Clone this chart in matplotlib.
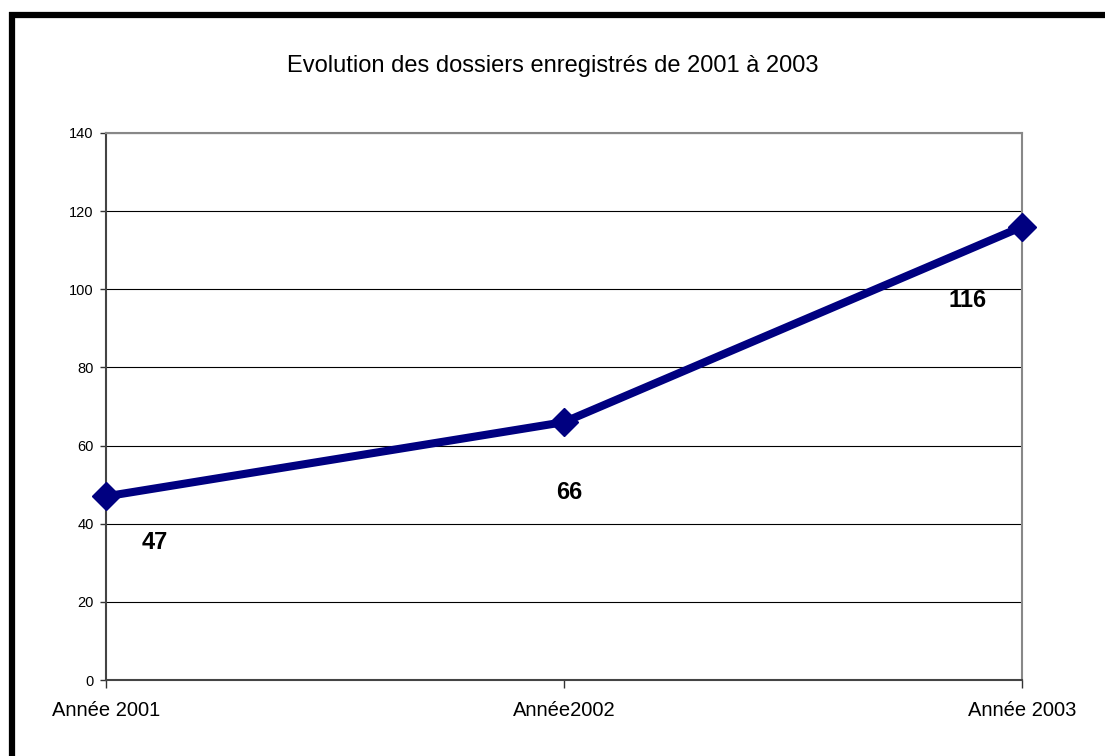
import matplotlib
matplotlib.use("Agg")
import matplotlib.pyplot as plt
from matplotlib.lines import Line2D

categories = ["Année 2001", "Année2002", "Année 2003"]
values = [47, 66, 116]
yticks = [0, 20, 40, 60, 80, 100, 120, 140]
title = "Evolution des dossiers enregistrés de 2001 à 2003"

plt.rcParams['font.family'] = ['Liberation Sans', 'DejaVu Sans']

W, H = 1105, 756
fig = plt.figure(figsize=(W / 100, H / 100), dpi=100)
ax = fig.add_axes([106 / W, 1 - 680 / H, (1022 - 106) / W, (680 - 133) / H])

x = list(range(len(categories)))
ax.plot(x, values, color="#000080", linewidth=5.8, marker="D", markersize=14,
        markerfacecolor="#000080", markeredgecolor="#000080", zorder=5, clip_on=False)

ax.set_xlim(0, len(categories) - 1)
ax.set_ylim(0, 140)
ax.set_yticks(yticks)
ax.set_yticklabels([str(v) for v in yticks], fontsize=10.5)
ax.set_xticks(x)
ax.set_xticklabels(categories, fontsize=14.5)
ax.tick_params(axis="y", direction="out", length=4, width=1, color="#333333", pad=5)
ax.tick_params(axis="x", direction="out", length=6, width=1, color="#333333", pad=9)
ax.yaxis.grid(True, color="black", linewidth=0.8)
ax.set_axisbelow(True)
for side in ["top", "right"]:
    ax.spines[side].set_color("#888888")
    ax.spines[side].set_linewidth(1.5)
for side in ["left", "bottom"]:
    ax.spines[side].set_color("#444444")
    ax.spines[side].set_linewidth(1.5)

offsets = [(35, -33), (4, -51), (-39, -53)]
for xi, v, off in zip(x, values, offsets):
    ax.annotate(str(v), (xi, v), xytext=off, textcoords="offset points",
                ha="center", va="center", fontsize=17, fontweight="bold", color="black")

fig.text(0.5, 1 - 66 / H, title, ha="center", va="center", fontsize=17)

# thick black frame lines (left and top)
fig.add_artist(Line2D([12 / W, 12 / W], [0, 1 - 12 / H], transform=fig.transFigure,
                      color="black", linewidth=4.5, solid_capstyle="butt"))
fig.add_artist(Line2D([9 / W, 1], [1 - 14.5 / H, 1 - 14.5 / H], transform=fig.transFigure,
                      color="black", linewidth=4.5, solid_capstyle="butt"))

fig.savefig("out.png", dpi=100)
